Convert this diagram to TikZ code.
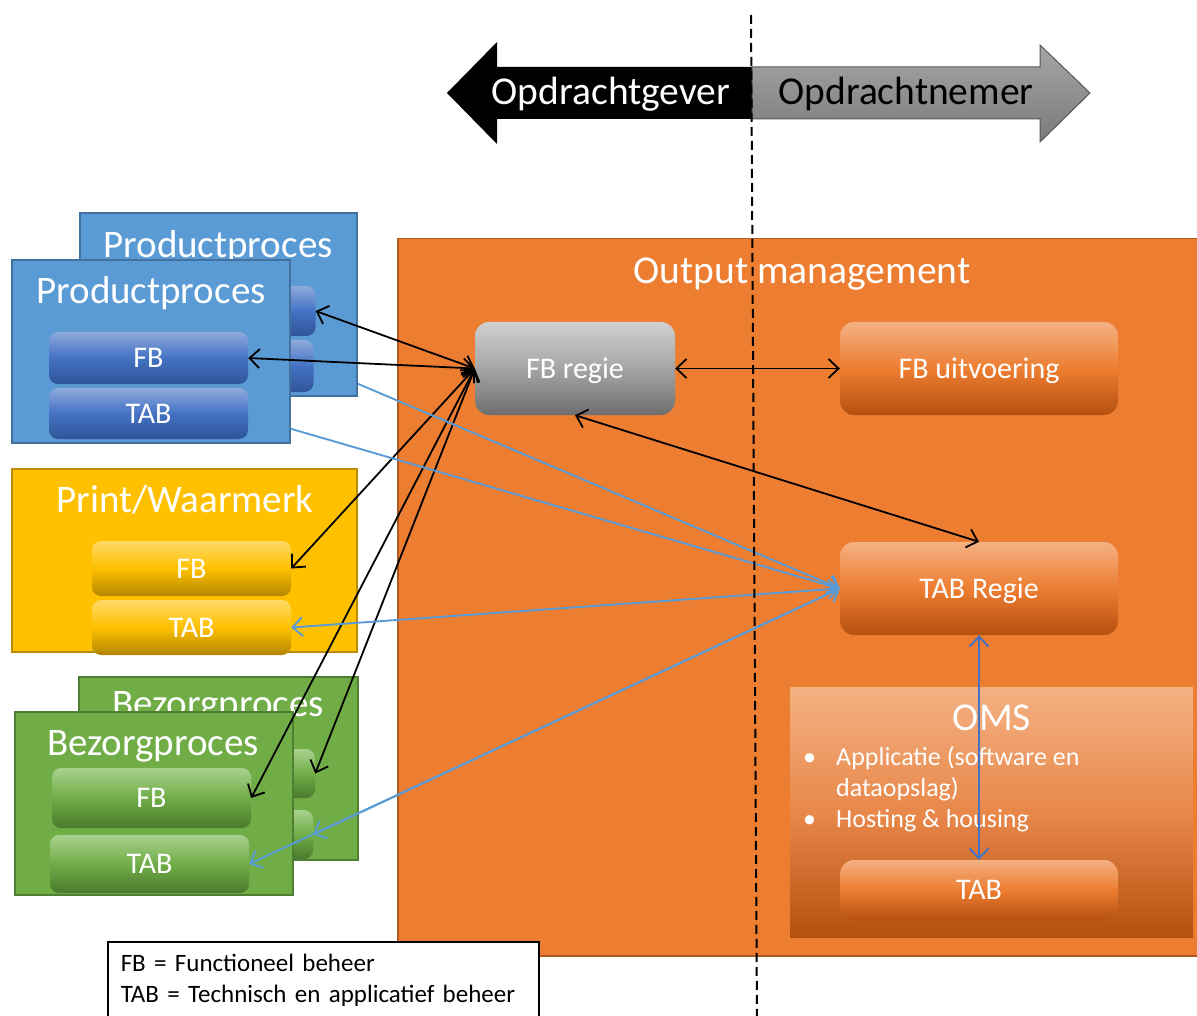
\documentclass[tikz,border=0pt]{standalone}
\usepackage{fontspec}
\setmainfont{Carlito}
\usetikzlibrary{arrows.meta, calc}
\definecolor{procBlue}{HTML}{5B9BD5}
\definecolor{procBlueLine}{HTML}{41719C}
\definecolor{blkBlueTop}{HTML}{8FAADC}
\definecolor{blkBlueMid}{HTML}{4472C4}
\definecolor{blkBlueBot}{HTML}{2F5597}
\definecolor{printYellow}{HTML}{FFC000}
\definecolor{printYellowLine}{HTML}{BC8C00}
\definecolor{blkYellowTop}{HTML}{FFD966}
\definecolor{blkYellowBot}{HTML}{B38600}
\definecolor{bezGreen}{HTML}{70AD47}
\definecolor{bezGreenLine}{HTML}{507E32}
\definecolor{blkGreenTop}{HTML}{A9D18E}
\definecolor{blkGreenBot}{HTML}{4A7A2E}
\definecolor{omOrange}{HTML}{ED7D31}
\definecolor{omOrangeLine}{HTML}{AE5A21}
\definecolor{blkOrangeTop}{HTML}{F4B183}
\definecolor{blkOrangeBot}{HTML}{B5500F}
\definecolor{omsMid}{HTML}{E8884A}
\definecolor{regieGrayTop}{HTML}{D0D0D0}
\definecolor{regieGrayMid}{HTML}{A5A5A5}
\definecolor{regieGrayBot}{HTML}{6E6E6E}
\definecolor{linkBlue}{HTML}{5B9BD5}
\definecolor{linkDarkBlue}{HTML}{4472C4}
\definecolor{nemerTop}{HTML}{A6A6A6}
\definecolor{nemerBot}{HTML}{7A7A7A}

\newcommand{\headsize}{\fontsize{39.5}{44}\selectfont}
\newcommand{\titlesize}{\fontsize{39}{44}\selectfont}
\newcommand{\blksize}{\fontsize{30}{34}\selectfont}
\newcommand{\listsize}{\fontsize{26}{31}\selectfont}
\newcommand{\legendsize}{\fontsize{25}{31}\selectfont}

\begin{document}
\begin{tikzpicture}[x=1pt, y=-1pt,
    area/.style={draw, line width=1.5pt, inner sep=0pt},
    blk/.style={rounded corners=9pt, inner sep=0pt, minimum width=199pt,
                text=white, font=\blksize, text height=24pt, text depth=4.8pt},
    bigblk/.style={blk, rounded corners=14pt},
    blueblk/.style={blk, top color=blkBlueTop, bottom color=blkBlueBot,
                    middle color=blkBlueMid},
    yellowblk/.style={blk, top color=blkYellowTop, bottom color=blkYellowBot,
                      middle color=printYellow},
    greenblk/.style={blk, top color=blkGreenTop, bottom color=blkGreenBot,
                     middle color=bezGreen},
    orangeblk/.style={bigblk, top color=blkOrangeTop, bottom color=blkOrangeBot,
                      middle color=omOrange},
    grayblk/.style={bigblk, top color=regieGrayTop, bottom color=regieGrayBot,
                    middle color=regieGrayMid},
    ttl/.style={text=white, font=\titlesize, inner sep=0pt,
                text height=31.2pt, text depth=6.2pt},
    blkarr/.style={{Straight Barb[length=10pt, width=19pt]}-{Straight Barb[length=10pt, width=19pt]},
                   line width=1.8pt},
    lnk/.style={-{Straight Barb[length=10pt, width=19pt]}, line width=1.9pt, linkBlue},
    lnkboth/.style={{Straight Barb[length=10pt, width=19pt]}-{Straight Barb[length=10pt, width=19pt]},
                    line width=1.9pt, linkBlue}
  ]
    \useasboundingbox (0,0) rectangle (1197,1016);

    % opdrachtgever / opdrachtnemer
    \fill[black] (447,93) -- (497,42) -- (497,67) -- (752,67) -- (752,119)
      -- (497,119) -- (497,144) -- cycle;
    \draw[black!65, line width=1pt, top color=nemerTop, bottom color=nemerBot]
      (752,67) -- (1040,67) -- (1040,45) -- (1090,93) -- (1040,142)
      -- (1040,119) -- (752,119) -- cycle;
    \node[ttl, font=\headsize] (gever) at (611,92) {Opdrachtgever};
    \node[ttl, font=\headsize, text=black] (nemer) at (906,92) {Opdrachtnemer};

    % productproces
    \node[area, draw=procBlueLine, fill=procBlue, minimum width=277pt,
          minimum height=183pt] (bprod) at (218.5,304.5) {};
    \node[blueblk, minimum height=50pt] (bprodfb) at (216,311) {};
    \node[blueblk, minimum height=52pt] (bprodtab) at (214,366) {};
    \node[ttl] (bprodttl) at (218,245) {Productproces};
    \node[area, draw=procBlueLine, fill=procBlue, minimum width=278pt,
          minimum height=183pt] (fprod) at (151,351.5) {};
    \node[blueblk, minimum height=52pt] (fprodfb) at (148.5,358) {FB};
    \node[blueblk, minimum height=51pt] (fprodtab) at (148.5,413.5) {TAB};
    \node[ttl] (fprodttl) at (151,291) {Productproces};

    % print/waarmerk
    \node[area, draw=printYellowLine, fill=printYellow, minimum width=345pt,
          minimum height=183pt] (print) at (184.5,560.5) {};
    \node[ttl] (printttl) at (185,500) {Print/Waarmerk};
    \node[yellowblk, minimum height=55pt] (printfb) at (191.5,568.5) {FB};
    \node[yellowblk, minimum height=55pt] (printtab) at (191.5,627.5) {TAB};

    % bezorgproces
    \node[area, draw=bezGreenLine, fill=bezGreen, minimum width=279pt,
          minimum height=183pt] (bbez) at (218.5,768.5) {};
    \node[greenblk, minimum height=49pt] (bbezfb) at (215.5,773.5) {};
    \node[greenblk, minimum height=49pt] (bbeztab) at (213.5,834.5) {};
    \node[ttl] (bbezttl) at (218,704) {Bezorgproces};
    \node[area, draw=bezGreenLine, fill=bezGreen, minimum width=278pt,
          minimum height=183pt] (fbez) at (154,803.5) {};
    \node[greenblk, minimum height=60pt] (fbezfb) at (151.5,798) {FB};
    \node[greenblk, minimum height=58pt] (fbeztab) at (149.5,864) {TAB};
    \node[ttl] (fbezttl) at (153,743) {Bezorgproces};

    % output management
    \node[area, draw=omOrangeLine, fill=omOrange, minimum width=805pt,
          minimum height=717pt, anchor=north west] (om) at (397,238) {};
    \node[ttl, font=\headsize] (omttl) at (802,271) {Output management};
    \node[grayblk, minimum width=200pt, minimum height=93pt] (fbregie) at (575,368.5) {FB regie};
    \node[orangeblk, minimum width=278pt, minimum height=93pt] (fbuit) at (979,368.5) {FB uitvoering};
    \node[orangeblk, minimum width=278pt, minimum height=93pt] (tabregie) at (979,588.5) {TAB Regie};
    \node[inner sep=0pt, minimum width=403pt, minimum height=250pt,
          top color=blkOrangeTop, bottom color=blkOrangeBot, middle color=omsMid] (oms) at (991.5,812) {};
    \node[ttl, font=\headsize] (omsttl) at (992,718) {OMS};
    \node[text=white, font=\listsize, anchor=west, inner sep=0pt] (omslist) at (803,790)
      {\begin{tabular}{@{}p{33pt}@{}l@{}}
         • & Applicatie (software en\\
           & dataopslag)\\
         • & Hosting \& housing
       \end{tabular}};
    \node[orangeblk, minimum width=278pt, minimum height=60pt] (omstab) at (979,890) {TAB};

    % FB links
    \draw[blkarr] (fbregie.west) -- (bprodfb.east);
    \draw[blkarr] (fbregie.west) -- (fprodfb.east);
    \draw[blkarr] (fbregie.west) -- (printfb.east);
    \draw[blkarr] (fbregie.west) -- (fbezfb.east);
    \draw[blkarr] (fbregie.west) -- (bbezfb.east);
    \draw[blkarr] (fbregie.east) -- (fbuit.west);
    \draw[blkarr] (fbregie.south) -- (tabregie.north);

    % TAB links
    \draw[lnk] ([yshift=13pt]bprod.south east) -- (tabregie.west);
    \draw[lnk] ([yshift=15pt]fprod.south east) -- (tabregie.west);
    \draw[lnkboth] (tabregie.west) -- (printtab.east);
    \draw[lnkboth] (tabregie.west) -- (bbeztab.east);
    \draw[lnkboth] (tabregie.west) -- (fbeztab.east);
    \draw[lnkboth, linkDarkBlue] (tabregie.south) -- (omstab.north);

    % legenda
    \node[draw, line width=1.5pt, fill=white, anchor=north west, align=left,
          font=\legendsize, text width=405pt, inner xsep=13pt, inner ysep=12pt]
      (legend) at (107,941) {FB = Functioneel beheer\\
                             TAB = Technisch en applicatief beheer};

    % scheiding
    \coordinate (splittop) at (751,15);
    \coordinate (splitbot) at (757,1020);
    \draw[line width=2pt, dash pattern=on 9pt off 5pt] (splittop) -- (splitbot);
  \end{tikzpicture}
\end{document}
